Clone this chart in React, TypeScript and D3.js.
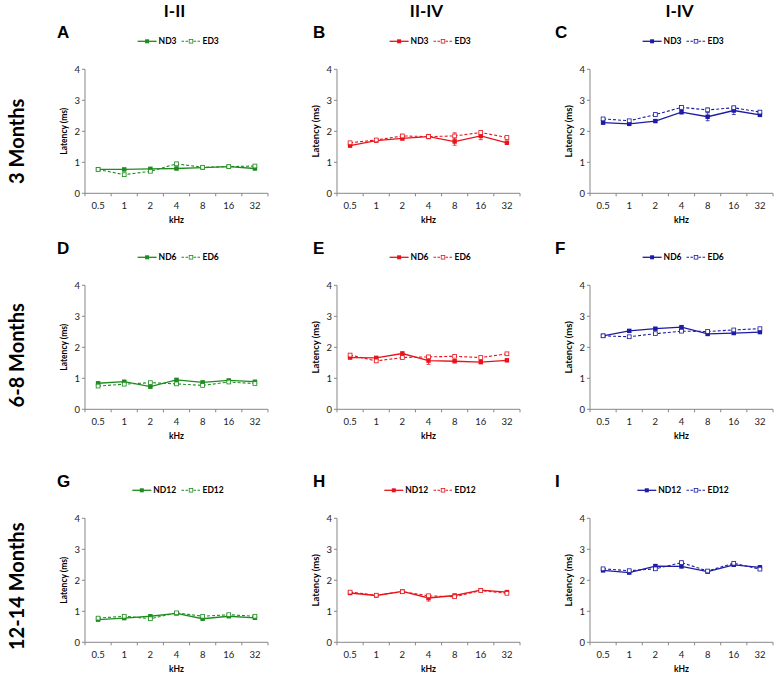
import React from 'react';
import * as d3 from 'd3';

// frequencies on the x axis
const freqs = ['0.5', '1', '2', '4', '8', '16', '32'];
const yTicks = [0, 1, 2, 3, 4];

const colTitles = ['I-II', 'II-IV', 'I-IV'];
const rowTitles = ['3 Months', '6-8 Months', '12-14 Months'];
const letters = ['A', 'B', 'C', 'D', 'E', 'F', 'G', 'H', 'I'];
const ages = ['3', '6', '12'];
const colColors = ['#1f8c1f', '#e8141c', '#1c1ca6'];

// latency (ms), ND = solid, ED = dashed
const ndA = [0.77, 0.77, 0.79, 0.8, 0.83, 0.86, 0.8];
const edA = [0.77, 0.6, 0.71, 0.95, 0.84, 0.86, 0.88];
const ndB = [1.54, 1.7, 1.77, 1.83, 1.67, 1.85, 1.63];
const edB = [1.63, 1.72, 1.85, 1.83, 1.85, 1.96, 1.8];
const ndC = [2.28, 2.24, 2.33, 2.62, 2.47, 2.67, 2.53];
const edC = [2.4, 2.34, 2.54, 2.77, 2.69, 2.76, 2.62];
const ndD = [0.84, 0.89, 0.73, 0.95, 0.87, 0.93, 0.89];
const edD = [0.75, 0.81, 0.86, 0.82, 0.77, 0.88, 0.83];
const ndE = [1.67, 1.66, 1.8, 1.57, 1.55, 1.52, 1.58];
const edE = [1.75, 1.56, 1.67, 1.69, 1.71, 1.67, 1.79];
const ndF = [2.37, 2.53, 2.6, 2.65, 2.43, 2.46, 2.49];
const edF = [2.37, 2.34, 2.44, 2.52, 2.51, 2.56, 2.6];
const ndG = [0.73, 0.78, 0.84, 0.93, 0.76, 0.84, 0.79];
const edG = [0.78, 0.84, 0.76, 0.95, 0.84, 0.89, 0.84];
const ndH = [1.59, 1.51, 1.64, 1.43, 1.51, 1.68, 1.62];
const edH = [1.62, 1.52, 1.63, 1.5, 1.47, 1.67, 1.58];
const ndI = [2.32, 2.25, 2.46, 2.45, 2.28, 2.5, 2.42];
const edI = [2.37, 2.31, 2.37, 2.57, 2.3, 2.55, 2.36];

// SEM
const errNdA = [0.03, 0.04, 0.03, 0.04, 0.03, 0.03, 0.04];
const errEdA = [0.03, 0.05, 0.04, 0.05, 0.03, 0.03, 0.03];
const errNdB = [0.05, 0.04, 0.05, 0.07, 0.12, 0.12, 0.05];
const errEdB = [0.04, 0.04, 0.05, 0.06, 0.1, 0.05, 0.04];
const errNdC = [0.05, 0.04, 0.04, 0.06, 0.13, 0.13, 0.05];
const errEdC = [0.04, 0.04, 0.05, 0.05, 0.06, 0.05, 0.04];
const errNdD = [0.04, 0.04, 0.04, 0.04, 0.03, 0.04, 0.03];
const errEdD = [0.03, 0.03, 0.03, 0.03, 0.04, 0.03, 0.03];
const errNdE = [0.04, 0.04, 0.05, 0.12, 0.04, 0.04, 0.04];
const errEdE = [0.04, 0.04, 0.04, 0.05, 0.04, 0.04, 0.04];
const errNdF = [0.03, 0.04, 0.04, 0.04, 0.04, 0.04, 0.04];
const errEdF = [0.03, 0.03, 0.03, 0.04, 0.04, 0.03, 0.03];
const errNdG = [0.03, 0.03, 0.04, 0.04, 0.03, 0.03, 0.04];
const errEdG = [0.03, 0.03, 0.03, 0.03, 0.03, 0.03, 0.03];
const errNdH = [0.04, 0.04, 0.04, 0.1, 0.04, 0.04, 0.04];
const errEdH = [0.04, 0.04, 0.04, 0.05, 0.04, 0.04, 0.04];
const errNdI = [0.04, 0.04, 0.04, 0.05, 0.04, 0.04, 0.04];
const errEdI = [0.04, 0.04, 0.04, 0.05, 0.04, 0.04, 0.04];

const panelNd = [ndA, ndB, ndC, ndD, ndE, ndF, ndG, ndH, ndI];
const panelEd = [edA, edB, edC, edD, edE, edF, edG, edH, edI];
const panelErrNd = [errNdA, errNdB, errNdC, errNdD, errNdE, errNdF, errNdG, errNdH, errNdI];
const panelErrEd = [errEdA, errEdB, errEdC, errEdD, errEdE, errEdF, errEdG, errEdH, errEdI];

const W = 778;
const H = 673;
const colX = [85, 337, 590];
const rowY0 = [193.3, 409.3, 642.3];
const plotW = 183;
const plotH = 124;
const letterX = [57, 313, 555];
const axisColor = '#878787';
const sans = 'Lato, "Open Sans", sans-serif';

const Panel = ({ row, col }: { row: number; col: number }) => {
  const idx = row * 3 + col;
  const x0 = colX[col];
  const y0 = rowY0[row];
  const color = colColors[col];
  const x = d3.scaleBand().domain(freqs).range([x0, x0 + plotW]);
  const y = d3.scaleLinear().domain([0, 4]).range([y0, y0 - plotH]);
  const cx = (f: string) => (x(f) as number) + x.bandwidth() / 2;
  const line = d3.line<number>().x((_, i) => cx(freqs[i])).y(v => y(v));
  const nd = panelNd[idx];
  const ed = panelEd[idx];
  const labelFs = col === 0 ? 8.5 : 9.5;
  const ndName = 'ND' + ages[row];
  const edName = 'ED' + ages[row];

  // legend layout
  const lf = 8.5;
  const tw = (s: string) => s.length * 5.3;
  const seg = 19;
  const total = seg + 2 + tw(ndName) + 7 + seg + 2 + tw(edName);
  const lx = x0 + 93 - total / 2;
  const ly = y0 - 152;
  const lx2 = lx + seg + 2 + tw(ndName) + 7;

  const errBars = (vals: number[], errs: number[], key: string) =>
    vals.map((v, i) => {
      const px = cx(freqs[i]);
      return (
        <g key={key + i} stroke={color} strokeWidth={0.8}>
          <line x1={px} x2={px} y1={y(v - errs[i])} y2={y(v + errs[i])} />
          <line x1={px - 2} x2={px + 2} y1={y(v - errs[i])} y2={y(v - errs[i])} />
          <line x1={px - 2} x2={px + 2} y1={y(v + errs[i])} y2={y(v + errs[i])} />
        </g>
      );
    });

  return (
    <g>
      <text x={letterX[col]} y={y0 - 161 + 6} fontFamily='"Liberation Sans", Arial, sans-serif'
        fontWeight="bold" fontSize={17}>{letters[idx]}</text>

      {/* legend */}
      <g fontFamily={sans} fontWeight="bold" fontSize={lf}>
        <line x1={lx} x2={lx + seg} y1={ly} y2={ly} stroke={color} strokeWidth={1.3} />
        <rect x={lx + seg / 2 - 2} y={ly - 2} width={4} height={4} fill={color} />
        <text x={lx + seg + 2} y={ly + 3}>{ndName}</text>
        <line x1={lx2} x2={lx2 + seg} y1={ly} y2={ly} stroke={color} strokeWidth={1.1} strokeDasharray="2.5,1.5" />
        <rect x={lx2 + seg / 2 - 1.8} y={ly - 1.8} width={3.6} height={3.6} fill="#fff" stroke={color} strokeWidth={0.8} />
        <text x={lx2 + seg + 2} y={ly + 3}>{edName}</text>
      </g>

      {/* axes */}
      <line x1={x0} x2={x0} y1={y0} y2={y0 - plotH} stroke={axisColor} strokeWidth={1} />
      <line x1={x0} x2={x0 + plotW} y1={y0} y2={y0} stroke={axisColor} strokeWidth={1} />
      {yTicks.map(t => (
        <g key={'yt' + t}>
          <line x1={x0 - 3} x2={x0} y1={y(t)} y2={y(t)} stroke={axisColor} />
          <text x={x0 - 5} y={y(t) + 3.2} textAnchor="end" fontFamily={sans} fontSize={9.5} fill="#222">{t}</text>
        </g>
      ))}
      {freqs.map(f => (
        <g key={'xt' + f}>
          <line x1={x(f)} x2={x(f)} y1={y0} y2={y0 + 3} stroke={axisColor} />
          <text x={cx(f)} y={y0 + 16} textAnchor="middle" fontFamily={sans} fontSize={9.5} fill="#222">{f}</text>
        </g>
      ))}
      <line x1={x0 + plotW} x2={x0 + plotW} y1={y0} y2={y0 + 3} stroke={axisColor} />
      <text x={x0 + plotW / 2} y={y0 + 30} textAnchor="middle" fontFamily={sans} fontWeight="bold" fontSize={8.5}>kHz</text>
      <text transform={`translate(${x0 - 18},${y0 - 62}) rotate(-90)`} textAnchor="middle"
        fontFamily={sans} fontWeight="bold" fontSize={labelFs}>Latency (ms)</text>

      {/* series */}
      {errBars(nd, panelErrNd[idx], 'en')}
      {errBars(ed, panelErrEd[idx], 'ee')}
      <path d={line(nd) as string} fill="none" stroke={color} strokeWidth={1.3} />
      <path d={line(ed) as string} fill="none" stroke={color} strokeWidth={1.1} strokeDasharray="3,2" />
      {nd.map((v, i) => (
        <rect key={'mn' + i} x={cx(freqs[i]) - 2.2} y={y(v) - 2.2} width={4.4} height={4.4} fill={color} />
      ))}
      {ed.map((v, i) => (
        <rect key={'me' + i} x={cx(freqs[i]) - 1.9} y={y(v) - 1.9} width={3.8} height={3.8}
          fill="#fff" stroke={color} strokeWidth={0.8} />
      ))}
    </g>
  );
};

export default function App() {
  const rowCenter = [rowY0[0] - 52, rowY0[1] - 54, rowY0[2] - 56];
  return (
    <svg width={W} height={H} style={{ position: 'absolute', left: 0, top: 0, background: '#fff' }}>
      <rect width={W} height={H} fill="#fff" />
      {colTitles.map((t, c) => (
        <text key={t} x={colX[c] + plotW / 2 - 2} y={17} textAnchor="middle" fontFamily={sans}
          fontWeight="bold" fontSize={17}>{t}</text>
      ))}
      {rowTitles.map((t, r) => (
        <text key={t} transform={`translate(24,${rowCenter[r]}) rotate(-90)`} textAnchor="middle"
          fontFamily={sans} fontWeight="bold" fontSize={20}>{t}</text>
      ))}
      {[0, 1, 2].map(r => [0, 1, 2].map(c => <Panel key={r + '-' + c} row={r} col={c} />))}
    </svg>
  );
}
